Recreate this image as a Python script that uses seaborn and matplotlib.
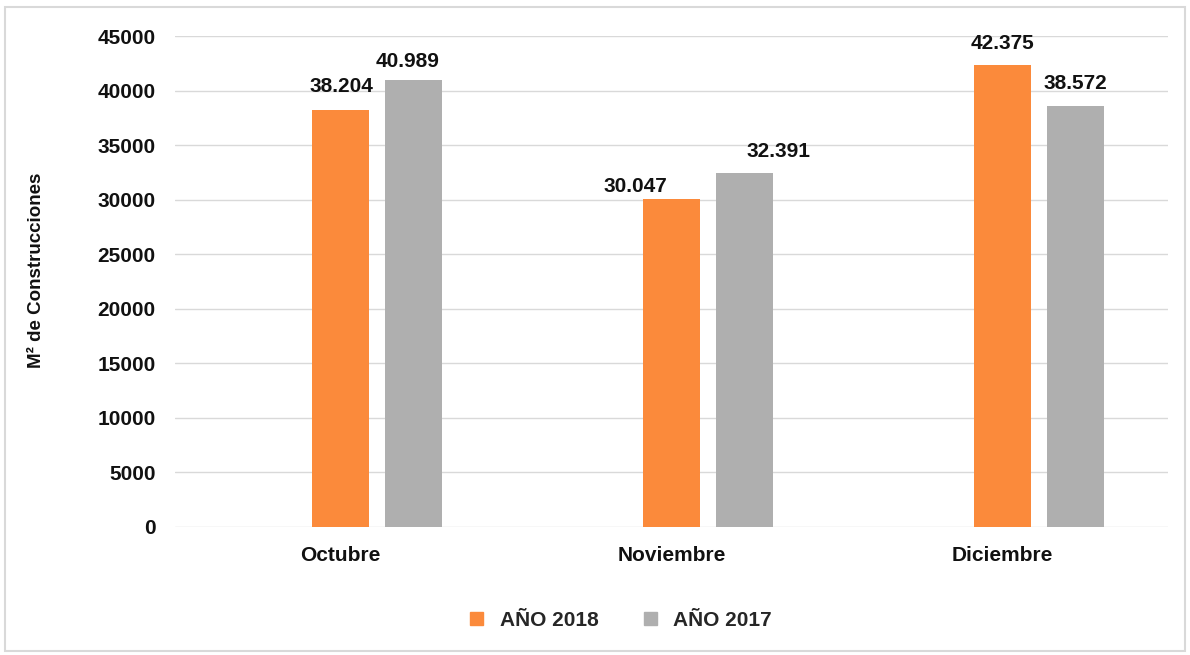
import numpy as np
import pandas as pd
import matplotlib
matplotlib.use("Agg")
import matplotlib.pyplot as plt
import seaborn as sns
from matplotlib.patches import Rectangle, Patch

# datos
meses = ["Octubre", "Noviembre", "Diciembre"]
anio_2018 = [38204, 30047, 42375]
anio_2017 = [40989, 32391, 38572]
series = ["AÑO 2018", "AÑO 2017"]
colores = {"": "#FFFFFF", "AÑO 2018": "#FB8A3B", "AÑO 2017": "#AFAFAF"}

# desplazamiento de las etiquetas (puntos) como en el original
desp_2018 = [(0.5, 13), (-26, 5), (0, 11.5)]
desp_2017 = [(-4, 9.5), (24.5, 12), (0, 12)]

df = pd.DataFrame({
    "mes": meses * 3,
    "serie": [""] * 3 + ["AÑO 2018"] * 3 + ["AÑO 2017"] * 3,
    "m2": [0] * 3 + anio_2018 + anio_2017,
})

sns.set_theme(style="white")
plt.rcParams["font.family"] = ["Liberation Sans", "DejaVu Sans"]
plt.rcParams["font.weight"] = "bold"

fig = plt.figure(figsize=(11.9, 6.55), dpi=100)
ax = fig.add_axes([0.147, 0.196, 0.8345, 0.749])

sns.barplot(data=df, x="mes", y="m2", hue="serie", hue_order=["", "AÑO 2018", "AÑO 2017"],
            palette=colores, saturation=1, width=0.66, gap=0.22, linewidth=0, errorbar=None,
            legend=False, ax=ax)

# etiquetas de valores
for cont, desp in zip(ax.containers[-2:], [desp_2018, desp_2017]):
    for b, (dx, dy) in zip(cont, desp):
        v = b.get_height()
        ax.annotate(f"{int(v):,}".replace(",", "."), (b.get_x() + b.get_width() / 2, v),
                    xytext=(dx, dy), textcoords="offset points", ha="center", va="baseline",
                    fontsize=15, fontweight="bold", color="#111111")

ax.set_ylim(0, 45000)
ax.set_yticks(np.arange(0, 45001, 5000))
ax.yaxis.grid(True, color="#D9D9D9", linewidth=1)
ax.set_axisbelow(True)
for s in ax.spines.values():
    s.set_visible(False)
ax.tick_params(axis="both", length=0, labelsize=15, colors="#111111")
ax.tick_params(axis="y", pad=14)
ax.tick_params(axis="x", pad=14)
for t in ax.get_xticklabels() + ax.get_yticklabels():
    t.set_fontweight("bold")
ax.set_xlabel("")
ax.set_ylabel("M² de Construcciones", fontsize=13.5, fontweight="bold", color="#111111")
ax.yaxis.set_label_coords(-0.131, 0.522)

handles = [Patch(color=colores[s]) for s in series]
fig.legend(handles, series, loc="center", bbox_to_anchor=(0.522, 0.053), ncol=2, frameon=False,
           prop={"size": 15, "weight": "bold"}, handlelength=0.6, handleheight=0.6,
           columnspacing=2.2, handletextpad=0.8)

# borde del gráfico
fig.patches.append(Rectangle((0.004, 0.006), 0.992, 0.983, transform=fig.transFigure,
                             fill=False, edgecolor="#D9D9D9", linewidth=1.5))

fig.savefig("out.png", dpi=100)
